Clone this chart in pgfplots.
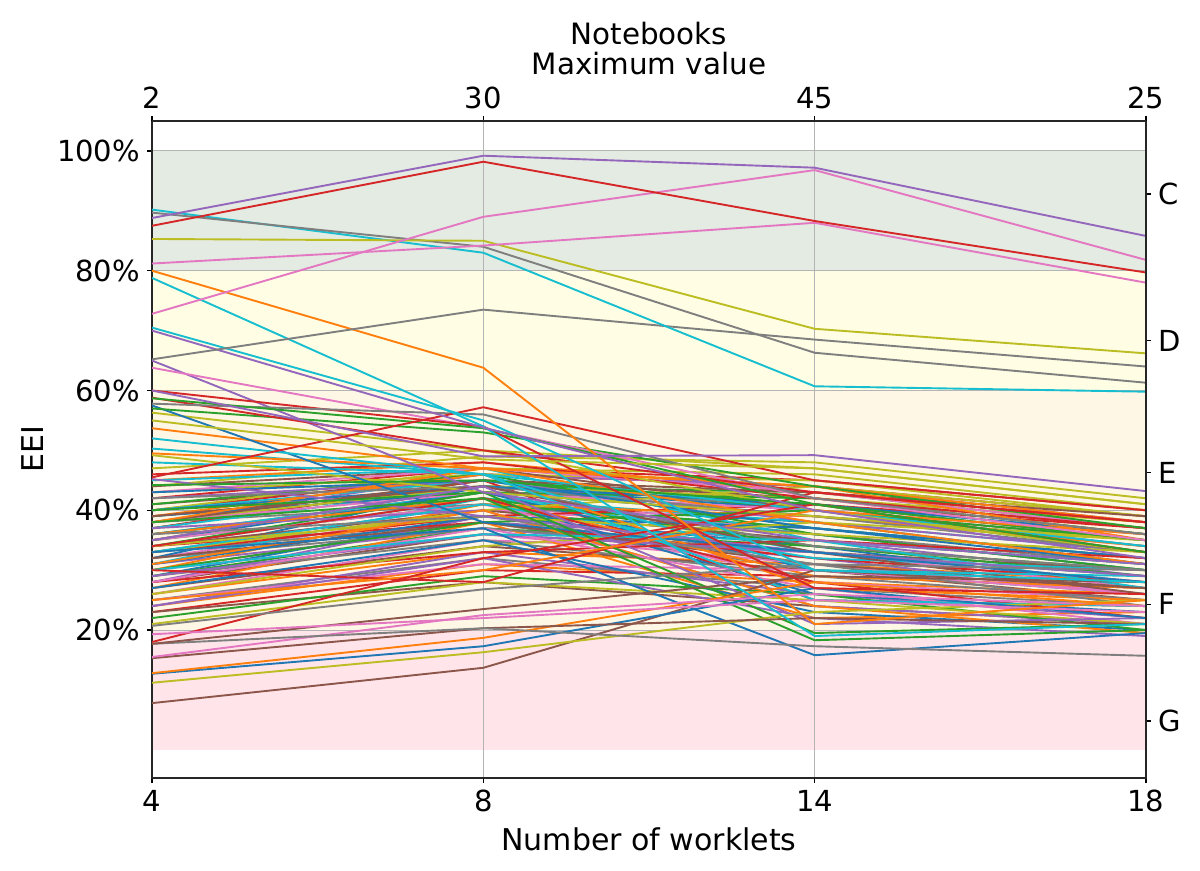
\documentclass[border=0pt]{standalone}
\usepackage{fontspec}
\setmainfont{DejaVu Sans}
\usepackage{pgfplots}
\pgfplotsset{compat=1.18}
\definecolor{c0}{HTML}{1F77B4}
\definecolor{c1}{HTML}{FF7F0E}
\definecolor{c2}{HTML}{2CA02C}
\definecolor{c3}{HTML}{D62728}
\definecolor{c4}{HTML}{9467BD}
\definecolor{c5}{HTML}{8C564B}
\definecolor{c6}{HTML}{E377C2}
\definecolor{c7}{HTML}{7F7F7F}
\definecolor{c8}{HTML}{BCBD22}
\definecolor{c9}{HTML}{17BECF}
\definecolor{bandC}{HTML}{E4EBE2}
\definecolor{bandD}{HTML}{FFFEE4}
\definecolor{bandE}{HTML}{FFF7E6}
\definecolor{bandG}{HTML}{FFE5E9}
\definecolor{gridgray}{HTML}{B4B4B4}
\newcommand{\tickfont}{\fontsize{14.5}{17}\selectfont}
\newcommand{\labfont}{\fontsize{15}{18}\selectfont}
\begin{document}
\begin{tikzpicture}
\begin{axis}[
  name=ax, set layers,
  scale only axis, width=497pt, height=328.5pt,
  xmin=0, xmax=3, ymin=-4.7, ymax=105,
  xtick={0,1,2,3}, xticklabels={4,8,14,18},
  ytick={20,40,60,80,100}, yticklabels={20\%,40\%,60\%,80\%,100\%},
  xtick pos=bottom, ytick pos=left, tick align=outside,
  major tick length=2.5pt,
  tick style={black, line width=0.6pt},
  grid=major, grid style={gridgray, line width=0.5pt},
  axis line style={line width=0.75pt, black!85},
  tick label style={font=\tickfont},
  label style={font=\labfont},
  xlabel={Number of worklets}, ylabel={EEI},
  xlabel style={yshift=-1pt},
  no markers,
  every axis plot/.append style={line width=0.95pt},
]
\coordinate (bl) at (rel axis cs:0,0);
\coordinate (tr) at (rel axis cs:1,1);
% bands
\addplot[draw=none, fill=bandC, on layer=axis background] coordinates {(0,80)(3,80)(3,100)(0,100)} -- cycle;
\addplot[draw=none, fill=bandD, on layer=axis background] coordinates {(0,60)(3,60)(3,80)(0,80)} -- cycle;
\addplot[draw=none, fill=bandE, on layer=axis background] coordinates {(0,20)(3,20)(3,60)(0,60)} -- cycle;
\addplot[draw=none, fill=bandG, on layer=axis background] coordinates {(0,0)(3,0)(3,20)(0,20)} -- cycle;
% middle cluster
\addplot[c0] coordinates {(0,33)(1,41)(2,38)(3,31)};
\addplot[c1] coordinates {(0,35)(1,44)(2,42)(3,36)};
\addplot[c2] coordinates {(0,37)(1,45)(2,40)(3,33)};
\addplot[c3] coordinates {(0,40)(1,46)(2,44)(3,39)};
\addplot[c4] coordinates {(0,30)(1,38)(2,35)(3,29)};
\addplot[c5] coordinates {(0,28)(1,36)(2,33)(3,30)};
\addplot[c6] coordinates {(0,32)(1,40)(2,37)(3,32)};
\addplot[c7] coordinates {(0,36)(1,43)(2,41)(3,35)};
\addplot[c8] coordinates {(0,44)(1,49)(2,48)(3,42)};
\addplot[c9] coordinates {(0,34)(1,42)(2,36)(3,30)};
\addplot[c0] coordinates {(0,29)(1,39)(2,34)(3,27)};
\addplot[c1] coordinates {(0,26)(1,33)(2,31)(3,28)};
\addplot[c2] coordinates {(0,39)(1,44)(2,43)(3,37)};
\addplot[c3] coordinates {(0,42)(1,47)(2,45)(3,40)};
\addplot[c4] coordinates {(0,31)(1,37)(2,32)(3,26)};
\addplot[c5] coordinates {(0,27)(1,34)(2,30)(3,25)};
\addplot[c6] coordinates {(0,34)(1,40)(2,39)(3,34)};
\addplot[c7] coordinates {(0,38)(1,41)(2,36)(3,31)};
\addplot[c8] coordinates {(0,47)(1,50)(2,47)(3,41)};
\addplot[c9] coordinates {(0,36)(1,43)(2,33)(3,29)};
\addplot[c0] coordinates {(0,32)(1,44)(2,40)(3,34)};
\addplot[c1] coordinates {(0,24)(1,31)(2,28)(3,26)};
\addplot[c2] coordinates {(0,35)(1,41)(2,37)(3,32)};
\addplot[c3] coordinates {(0,37)(1,45)(2,25)(3,24)};
\addplot[c4] coordinates {(0,28)(1,39)(2,36)(3,30)};
\addplot[c5] coordinates {(0,41)(1,45)(2,42)(3,37)};
\addplot[c6] coordinates {(0,26)(1,35)(2,33)(3,27)};
\addplot[c7] coordinates {(0,33)(1,38)(2,30)(3,28)};
\addplot[c8] coordinates {(0,40)(1,47)(2,46)(3,40)};
\addplot[c9] coordinates {(0,31)(1,42)(2,38)(3,33)};
\addplot[c0] coordinates {(0,35)(1,43)(2,30)(3,26)};
\addplot[c1] coordinates {(0,45)(1,48)(2,43)(3,38)};
\addplot[c2] coordinates {(0,29)(1,37)(2,34)(3,30)};
\addplot[c3] coordinates {(0,23)(1,30)(2,29)(3,27)};
\addplot[c4] coordinates {(0,38)(1,46)(2,44)(3,38)};
\addplot[c5] coordinates {(0,34)(1,40)(2,35)(3,31)};
\addplot[c6] coordinates {(0,30)(1,36)(2,31)(3,26)};
\addplot[c7] coordinates {(0,25)(1,32)(2,27)(3,24)};
\addplot[c8] coordinates {(0,43)(1,46)(2,45)(3,39)};
\addplot[c9] coordinates {(0,37)(1,44)(2,41)(3,36)};
\addplot[c0] coordinates {(0,39)(1,43)(2,39)(3,35)};
\addplot[c1] coordinates {(0,27)(1,38)(2,22)(3,23)};
\addplot[c2] coordinates {(0,36)(1,42)(2,34)(3,29)};
\addplot[c3] coordinates {(0,33)(1,39)(2,41)(3,37)};
\addplot[c4] coordinates {(0,24)(1,33)(2,26)(3,22)};
\addplot[c5] coordinates {(0,44)(1,47)(2,40)(3,35)};
\addplot[c6] coordinates {(0,35)(1,41)(2,28)(3,25)};
\addplot[c7] coordinates {(0,32)(1,37)(2,33)(3,29)};
\addplot[c8] coordinates {(0,38)(1,44)(2,42)(3,38)};
\addplot[c9] coordinates {(0,40)(1,45)(2,37)(3,32)};
\addplot[c0] coordinates {(0,36)(1,42)(2,26)(3,23)};
\addplot[c1] coordinates {(0,30)(1,41)(2,39)(3,34)};
\addplot[c2] coordinates {(0,41)(1,46)(2,36)(3,30)};
\addplot[c3] coordinates {(0,34)(1,38)(2,32)(3,28)};
\addplot[c4] coordinates {(0,42)(1,45)(2,38)(3,33)};
\addplot[c5] coordinates {(0,23)(1,28)(2,24)(3,21)};
\addplot[c6] coordinates {(0,38)(1,43)(2,40)(3,36)};
\addplot[c7] coordinates {(0,29)(1,35)(2,29)(3,25)};
\addplot[c8] coordinates {(0,33)(1,40)(2,44)(3,39)};
\addplot[c9] coordinates {(0,45)(1,47)(2,35)(3,31)};
\addplot[c0] coordinates {(0,31)(1,39)(2,37)(3,32)};
\addplot[c1] coordinates {(0,39)(1,46)(2,27)(3,25)};
\addplot[c2] coordinates {(0,34)(1,43)(2,42)(3,36)};
\addplot[c3] coordinates {(0,28)(1,33)(2,35)(3,32)};
\addplot[c4] coordinates {(0,37)(1,40)(2,24)(3,21)};
\addplot[c5] coordinates {(0,32)(1,38)(2,31)(3,27)};
\addplot[c6] coordinates {(0,43)(1,47)(2,43)(3,37)};
\addplot[c7] coordinates {(0,35)(1,44)(2,39)(3,33)};
\addplot[c8] coordinates {(0,26)(1,34)(2,38)(3,35)};
\addplot[c9] coordinates {(0,33)(1,41)(2,32)(3,30)};
\addplot[c0] coordinates {(0,40)(1,44)(2,41)(3,36)};
\addplot[c1] coordinates {(0,36)(1,42)(2,29)(3,27)};
\addplot[c2] coordinates {(0,30)(1,38)(2,40)(3,35)};
\addplot[c3] coordinates {(0,46)(1,48)(2,42)(3,37)};
\addplot[c4] coordinates {(0,29)(1,36)(2,33)(3,28)};
\addplot[c5] coordinates {(0,38)(1,45)(2,43)(3,39)};
\addplot[c6] coordinates {(0,25)(1,31)(2,30)(3,26)};
\addplot[c7] coordinates {(0,42)(1,44)(2,34)(3,30)};
\addplot[c8] coordinates {(0,34)(1,39)(2,36)(3,33)};
\addplot[c9] coordinates {(0,48)(1,46)(2,40)(3,34)};
\addplot[c0] coordinates {(0,27)(1,35)(2,23)(3,20)};
\addplot[c1] coordinates {(0,31)(1,40)(2,24)(3,19.5)};
\addplot[c2] coordinates {(0,22)(1,29)(2,26)(3,20)};
\addplot[c3] coordinates {(0,34)(1,42)(2,28)(3,22)};
\addplot[c4] coordinates {(0,24)(1,32)(2,22)(3,19)};
\addplot[c5] coordinates {(0,39)(1,44)(2,33)(3,26)};
\addplot[c6] coordinates {(0,28)(1,37)(2,27)(3,21)};
\addplot[c7] coordinates {(0,36)(1,39)(2,31)(3,24)};
\addplot[c8] coordinates {(0,21)(1,28)(2,25)(3,21)};
\addplot[c9] coordinates {(0,30)(1,36)(2,35)(3,27)};
\addplot[c0] coordinates {(0,43)(1,45)(2,37)(3,31)};
\addplot[c1] coordinates {(0,38)(1,47)(2,44)(3,35)};
% upper-middle lines
\addplot[c8] coordinates {(0,56.3)(1,50)(2,40)(3,33)};
\addplot[c1] coordinates {(0,53.7)(1,47)(2,38)(3,31)};
\addplot[c9] coordinates {(0,50.3)(1,46)(2,30)(3,29)};
\addplot[c8] coordinates {(0,49.2)(1,43)(2,39)(3,35)};
\addplot[c1] coordinates {(0,49.5)(1,47)(2,44)(3,38)};
\addplot[c4] coordinates {(0,45.2)(1,39)(2,33)(3,29)};
\addplot[c2] coordinates {(0,44.2)(1,45)(2,41)(3,35)};
\addplot[c0] coordinates {(0,57.5)(1,38)(2,33)(3,28)};
\addplot[c2] coordinates {(0,57)(1,53)(2,44)(3,37)};
% lines dropping or rising
\addplot[c0] coordinates {(0,33)(1,37)(2,15.8)(3,19.5)};
\addplot[c2] coordinates {(0,38)(1,42)(2,18.3)(3,20)};
\addplot[c9] coordinates {(0,52)(1,46)(2,25)(3,24)};
\addplot[c2] coordinates {(0,40)(1,43)(2,19.5)(3,21)};
\addplot[c4] coordinates {(0,35)(1,44)(2,21)(3,22)};
\addplot[c3] coordinates {(0,30)(1,28)(2,43)(3,38)};
\addplot[c1] coordinates {(0,25)(1,30)(2,40)(3,36)};
% low lines
\addplot[c5] coordinates {(0,7.8)(1,13.7)(2,30)(3,27)};
\addplot[c8] coordinates {(0,11.2)(1,16.3)(2,23)(3,25)};
\addplot[c0] coordinates {(0,12.7)(1,17.3)(2,27)(3,22)};
\addplot[c1] coordinates {(0,12.8)(1,18.7)(2,28)(3,24)};
\addplot[c5] coordinates {(0,15.3)(1,20.3)(2,22)(3,21)};
\addplot[c6] coordinates {(0,15.5)(1,22.5)(2,26)(3,24)};
\addplot[c7] coordinates {(0,17.7)(1,20.3)(2,17.3)(3,15.7)};
\addplot[c3] coordinates {(0,18)(1,32)(2,41)(3,33)};
\addplot[c5] coordinates {(0,17.7)(1,23.5)(2,29)(3,28)};
\addplot[c6] coordinates {(0,19.3)(1,22)(2,25)(3,23)};
\addplot[c7] coordinates {(0,20.7)(1,26.8)(2,31)(3,30)};
% upper distinct lines
\addplot[c4] coordinates {(0,65)(1,43)(2,35)(3,31)};
\addplot[c6] coordinates {(0,63.8)(1,53.7)(2,42)(3,35)};
\addplot[c3] coordinates {(0,60)(1,54)(2,27)(3,26)};
\addplot[c3] coordinates {(0,58.8)(1,50)(2,43)(3,38)};
\addplot[c7] coordinates {(0,57.8)(1,56)(2,42)(3,36)};
\addplot[c2] coordinates {(0,58.7)(1,53.7)(2,41)(3,33)};
\addplot[c3] coordinates {(0,45.5)(1,57.2)(2,45)(3,40)};
\addplot[c8] coordinates {(0,55)(1,48.5)(2,47)(3,41)};
\addplot[c9] coordinates {(0,78.8)(1,54)(2,19)(3,21)};
\addplot[c9] coordinates {(0,70.5)(1,55)(2,30)(3,28)};
\addplot[c4] coordinates {(0,70)(1,53.8)(2,40)(3,32)};
\addplot[c1] coordinates {(0,80)(1,63.8)(2,21)(3,25)};
\addplot[c4] coordinates {(0,60)(1,49)(2,49.2)(3,43.2)};
\addplot[c7] coordinates {(0,65.2)(1,73.5)(2,68.5)(3,64)};
\addplot[c9] coordinates {(0,90.2)(1,83)(2,60.7)(3,59.8)};
\addplot[c7] coordinates {(0,89.7)(1,84)(2,66.3)(3,61.3)};
\addplot[c8] coordinates {(0,85.3)(1,85)(2,70.3)(3,66.2)};
\addplot[c6] coordinates {(0,81.2)(1,84.2)(2,88)(3,78)};
\addplot[c6] coordinates {(0,72.8)(1,89)(2,96.8)(3,81.8)};
\addplot[c3] coordinates {(0,87.5)(1,98.2)(2,88.3)(3,79.7)};
\addplot[c4] coordinates {(0,88.8)(1,99.2)(2,97.2)(3,85.8)};
\end{axis}
\begin{axis}[
  scale only axis, width=497pt, height=328.5pt,
  xmin=0, xmax=3, ymin=-4.7, ymax=105,
  axis x line*=top, axis y line*=right,
  xtick={0,1,2,3}, xticklabels={2,30,45,25},
  ytick={92.8,68.3,46.3,24.3,4.8}, yticklabels={C,D,E,F,G},
  tick align=outside, major tick length=2.5pt,
  tick style={black, line width=0.6pt},
  axis line style={line width=0.75pt, black!85},
  tick label style={font=\tickfont},
  title={Notebooks\\Maximum value},
  title style={font=\fontsize{14.7}{14.8}\selectfont, align=center, at={(0.5,1)}, anchor=south, yshift=13.5pt},
]
\addplot[draw=none] coordinates {(0,0)};
\end{axis}
\pgfresetboundingbox
\path ([shift={(-76pt,-46.5pt)}]bl) rectangle ([shift={(27pt,60.5pt)}]tr);
\end{tikzpicture}
\end{document}
